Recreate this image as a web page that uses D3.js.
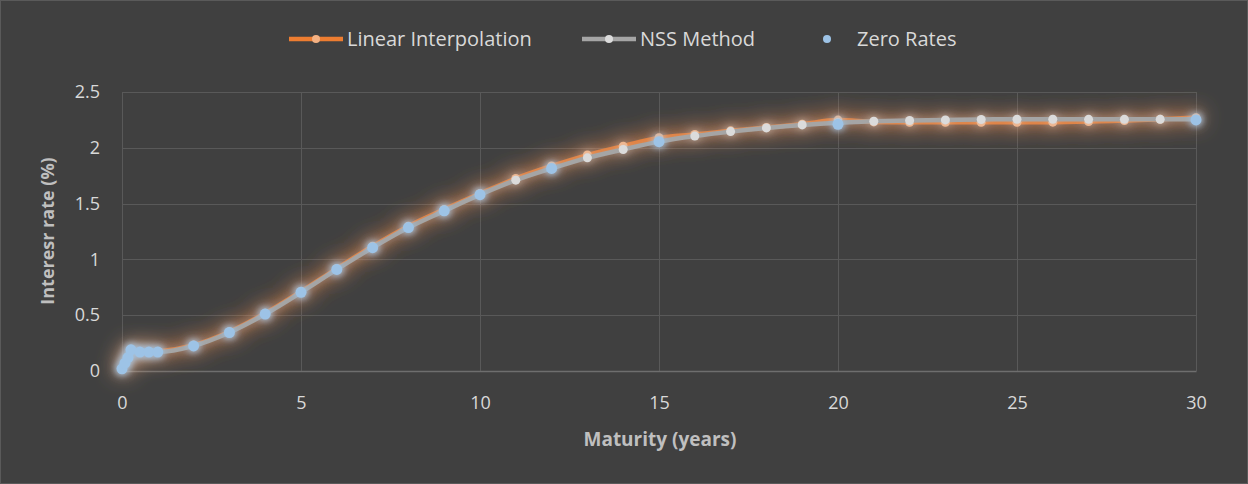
<!DOCTYPE html>
<html>
<head>
<meta charset="utf-8">
<script src="https://d3js.org/d3.v7.min.js"></script>
<style>
  body { margin: 0; background: #404040; }
  svg { display: block; }
</style>
</head>
<body>
<svg width="1248" height="484"></svg>
<script>
// maturities (years) used by both curves
var maturity = [0, 0.083, 0.167, 0.25, 0.5, 0.75, 1, 2, 3, 4, 5, 6, 7, 8, 9, 10,
  11, 12, 13, 14, 15, 16, 17, 18, 19, 20, 21, 22, 23, 24, 25, 26, 27, 28, 29, 30];

var linearRates = [0.02, 0.07, 0.12, 0.19, 0.17, 0.17, 0.175, 0.232, 0.352, 0.517, 0.712, 0.918, 1.118, 1.298, 1.448, 1.59,
  1.725, 1.837, 1.935, 2.015, 2.09, 2.12, 2.152, 2.182, 2.212, 2.248, 2.232, 2.228, 2.228, 2.228, 2.228, 2.23, 2.235, 2.245, 2.255, 2.27];

var nssRates = [0.02, 0.07, 0.12, 0.19, 0.17, 0.17, 0.17, 0.225, 0.345, 0.51, 0.705, 0.91, 1.105, 1.285, 1.435, 1.58,
  1.71, 1.815, 1.91, 1.985, 2.055, 2.105, 2.145, 2.178, 2.205, 2.225, 2.238, 2.245, 2.25, 2.254, 2.256, 2.256, 2.255, 2.255, 2.255, 2.255];

var zeroMaturity = [0, 0.083, 0.167, 0.25, 0.5, 0.75, 1, 2, 3, 4, 5, 6, 7, 8, 9, 10, 12, 15, 20, 30];
var zeroRates = [0.02, 0.07, 0.12, 0.19, 0.17, 0.17, 0.17, 0.225, 0.345, 0.51, 0.705, 0.91, 1.105, 1.285, 1.435, 1.58, 1.815, 2.055, 2.21, 2.25];

var xTicks = [0, 5, 10, 15, 20, 25, 30];
var yTicks = [0, 0.5, 1, 1.5, 2, 2.5];

var svg = d3.select("svg"),
    margin = {top: 92, right: 52, bottom: 113, left: 122},
    width = +svg.attr("width") - margin.left - margin.right,
    height = +svg.attr("height") - margin.top - margin.bottom;

svg.append("rect")
    .attr("x", 0.5).attr("y", 0.5)
    .attr("width", 1247).attr("height", 483)
    .attr("fill", "#404040")
    .attr("stroke", "#5a5a5a");

var defs = svg.append("defs");
// soft glow: wide faint blur + tighter blur under the original
function glow(id, sdWide, opWide, sd, op) {
  var f = defs.append("filter").attr("id", id)
      .attr("x", "-20%").attr("y", "-40%").attr("width", "140%").attr("height", "180%");
  f.append("feGaussianBlur").attr("in", "SourceGraphic").attr("stdDeviation", sdWide).attr("result", "bw");
  f.append("feComponentTransfer").attr("in", "bw").attr("result", "gw")
    .append("feFuncA").attr("type", "linear").attr("slope", opWide);
  f.append("feGaussianBlur").attr("in", "SourceGraphic").attr("stdDeviation", sd).attr("result", "b");
  f.append("feComponentTransfer").attr("in", "b").attr("result", "g")
    .append("feFuncA").attr("type", "linear").attr("slope", opWide > 0 ? op : 0);
  var m = f.append("feMerge");
  m.append("feMergeNode").attr("in", "gw");
  m.append("feMergeNode").attr("in", "g");
  m.append("feMergeNode").attr("in", "SourceGraphic");
}
glow("glowO", 11, 1.7, 5, 0.45);
glow("glowG", 6, 0.45, 3, 0.35);
glow("glowB", 5, 0.8, 3, 0.6);

var g = svg.append("g").attr("transform", "translate(" + margin.left + "," + margin.top + ")");

var x = d3.scaleLinear().domain([0, 30]).range([0, width]);
var y = d3.scaleLinear().domain([0, 2.5]).range([height, 0]);

// grid
g.append("g")
  .selectAll("line")
  .data(yTicks.slice(1))
  .enter().append("line")
    .attr("x1", 0).attr("x2", width)
    .attr("y1", function(d) { return Math.round(y(d)) + 0.5; })
    .attr("y2", function(d) { return Math.round(y(d)) + 0.5; })
    .attr("stroke", "#595959");

g.append("g")
  .selectAll("line")
  .data(xTicks)
  .enter().append("line")
    .attr("y1", 0).attr("y2", height)
    .attr("x1", function(d) { return Math.round(x(d)) + 0.5; })
    .attr("x2", function(d) { return Math.round(x(d)) + 0.5; })
    .attr("stroke", "#595959");

// axes
var xAxis = g.append("g")
    .attr("transform", "translate(0," + height + ")")
    .call(d3.axisBottom(x).tickValues(xTicks).tickSize(0).tickPadding(25));
xAxis.select(".domain").attr("stroke", "#6e6e6e").attr("stroke-width", 1.5);

var yAxis = g.append("g")
    .call(d3.axisLeft(y).tickValues(yTicks).tickFormat(function(d) { return String(d); })
      .tickSize(0).tickPadding(22));
yAxis.select(".domain").remove();

svg.selectAll(".tick text")
    .attr("fill", "#d9d9d9")
    .attr("font-family", "Open Sans, sans-serif")
    .attr("font-size", 18);

// axis titles
svg.append("text")
    .attr("x", 660).attr("y", 446)
    .attr("text-anchor", "middle")
    .attr("fill", "#bfbfbf")
    .attr("font-family", "Open Sans, sans-serif")
    .attr("font-weight", "bold")
    .attr("font-size", 19)
    .text("Maturity (years)");

svg.append("text")
    .attr("transform", "translate(54,231) rotate(-90)")
    .attr("text-anchor", "middle")
    .attr("fill", "#bfbfbf")
    .attr("font-family", "Open Sans, sans-serif")
    .attr("font-weight", "bold")
    .attr("font-size", 18)
    .text("Interesr rate (%)");

var line = d3.line()
    .x(function(d) { return x(d[0]); })
    .y(function(d) { return y(d[1]); })
    .curve(d3.curveMonotoneX);

var linData = d3.zip(maturity, linearRates);
var nssData = d3.zip(maturity, nssRates);
var zeroData = d3.zip(zeroMaturity, zeroRates);

var series = [
  {data: linData, line: "#ED7D31", marker: "#F4B183", filter: "url(#glowO)"},
  {data: nssData, line: "#A5A5A5", marker: "#DBDBDB", filter: "url(#glowG)"}
];

series.forEach(function(s) {
  var sg = g.append("g").attr("filter", s.filter);
  sg.append("path")
      .datum(s.data)
      .attr("fill", "none")
      .attr("stroke", s.line)
      .attr("stroke-width", 4.5)
      .attr("stroke-linejoin", "round")
      .attr("d", line);
  sg.selectAll("circle")
      .data(s.data)
      .enter().append("circle")
      .attr("cx", function(d) { return x(d[0]); })
      .attr("cy", function(d) { return y(d[1]); })
      .attr("r", 4.5)
      .attr("fill", s.marker);
});

g.append("g").attr("filter", "url(#glowB)")
  .selectAll("circle")
  .data(zeroData)
  .enter().append("circle")
    .attr("cx", function(d) { return x(d[0]); })
    .attr("cy", function(d) { return y(d[1]); })
    .attr("r", 5.5)
    .attr("fill", "#9DC3E6");

// legend
var legendItems = [
  {name: "Linear Interpolation", x: 289, line: "#ED7D31", marker: "#F4B183"},
  {name: "NSS Method", x: 582, line: "#A5A5A5", marker: "#DBDBDB"},
  {name: "Zero Rates", x: 800, line: null, marker: "#9DC3E6"}
];

var legend = svg.append("g")
  .selectAll("g")
  .data(legendItems)
  .enter().append("g")
    .attr("transform", function(d) { return "translate(" + d.x + ",39)"; });

legend.filter(function(d) { return d.line; })
  .append("line")
    .attr("x1", 0).attr("x2", 54)
    .attr("stroke", function(d) { return d.line; })
    .attr("stroke-width", 4.5);

legend.append("circle")
    .attr("cx", 27)
    .attr("r", 4)
    .attr("fill", function(d) { return d.marker; });

legend.append("text")
    .attr("x", function(d) { return d.line ? 58 : 57; })
    .attr("dy", "0.35em")
    .attr("fill", "#d9d9d9")
    .attr("font-family", "Open Sans, sans-serif")
    .attr("font-size", 20)
    .text(function(d) { return d.name; });
</script>
</body>
</html>
